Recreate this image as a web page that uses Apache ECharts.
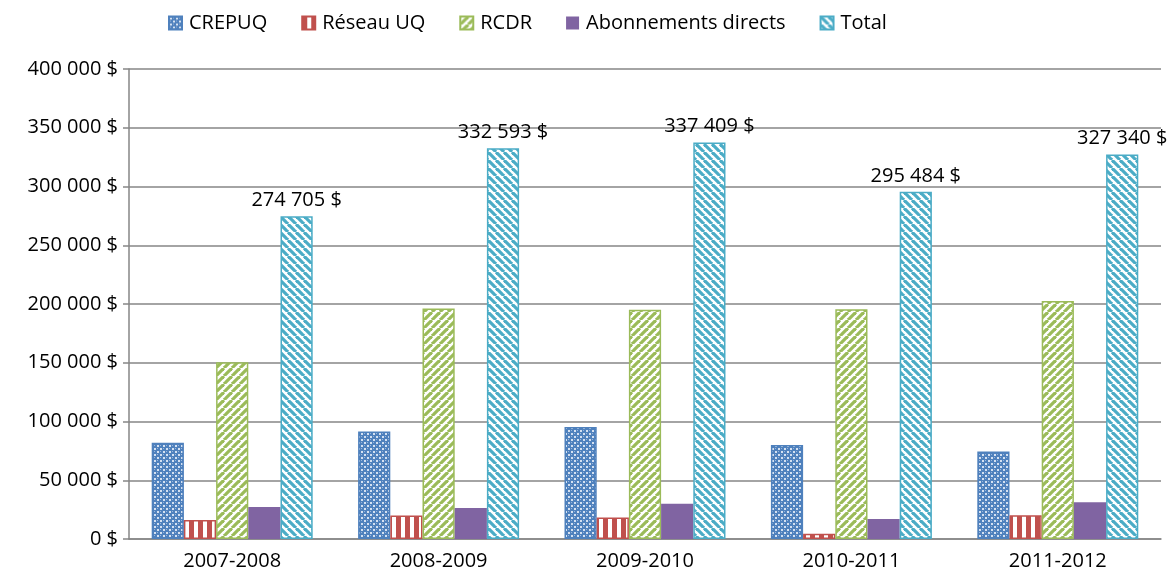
<!DOCTYPE html>
<html>
<head>
<meta charset="utf-8">
<script src="https://cdn.jsdelivr.net/npm/echarts@6/dist/echarts.min.js"></script>
<style>
  html, body { margin: 0; padding: 0; background: #fff; }
  #main { width: 1173px; height: 579px; }
</style>
</head>
<body>
<div id="main"></div>
<script>
var categories = ['2007-2008', '2008-2009', '2009-2010', '2010-2011', '2011-2012'];
var crepuq = [82000, 91500, 95300, 79900, 74500];
var reseauUQ = [16200, 19900, 18200, 4500, 20200];
var rcdr = [150500, 196200, 195100, 195600, 202500];
var abonnements = [27300, 26400, 30100, 17100, 31300];
var total = [274705, 332593, 337409, 295484, 327340];

// petites tuiles de motif, facon Excel
function tile(w, h, draw) {
    var c = document.createElement('canvas');
    c.width = w; c.height = h;
    draw(c.getContext('2d'), w, h);
    return c;
}
var patCrepuq = tile(6, 6, function (g) {
    g.fillStyle = '#4F81BD'; g.fillRect(0, 0, 6, 6);
    g.fillStyle = '#D5E1F1';
    g.fillRect(1, 1, 2, 2);
    g.fillRect(4, 4, 2, 2);
    g.fillStyle = '#9AB7DD';
    g.fillRect(4, 1, 1, 1);
    g.fillRect(1, 4, 1, 1);
});
var patReseau = tile(9, 4, function (g) {
    g.fillStyle = '#ffffff'; g.fillRect(0, 0, 9, 4);
    g.fillStyle = '#C0504D'; g.fillRect(0, 0, 5, 4);
});
function diag(color, up) {
    return tile(8, 8, function (g, w, h) {
        g.fillStyle = '#ffffff'; g.fillRect(0, 0, w, h);
        g.strokeStyle = color; g.lineWidth = 3.2;
        for (var k = -2; k <= 2; k++) {
            g.beginPath();
            if (up) { g.moveTo(k * 8, 8); g.lineTo(k * 8 + 8, 0); }
            else { g.moveTo(k * 8, 0); g.lineTo(k * 8 + 8, 8); }
            g.stroke();
        }
    });
}
var patRcdr = diag('#9BBB59', true);
var patTotal = diag('#4BACC6', false);

function fmt(v) {
    return String(v).replace(/\B(?=(\d{3})+(?!\d))/g, ' ') + ' $';
}

var font = '"Open Sans", Lato, sans-serif';

function serie(name, data, fill, border) {
    return {
        name: name,
        type: 'bar',
        data: data,
        barGap: '0%',
        barCategoryGap: '22%',
        itemStyle: {
            color: { image: fill, repeat: 'repeat' },
            borderColor: border,
            borderWidth: 1.5
        }
    };
}

var myChart = echarts.init(document.getElementById('main'));

var option = {
    animation: false,
    textStyle: { fontFamily: font },
    legend: {
        top: 8,
        left: 163,
        itemWidth: 13,
        itemHeight: 13,
        itemGap: 34,
        icon: 'rect',
        textStyle: { fontSize: 20, color: '#000', fontFamily: font, padding: [0, 0, 0, 2] }
    },
    grid: { left: 129, right: 12, top: 69, bottom: 40 },
    xAxis: {
        type: 'category',
        data: categories,
        axisLine: { lineStyle: { color: '#868686', width: 1.5 } },
        axisTick: { length: 6, lineStyle: { color: '#868686', width: 1.5 } },
        axisLabel: { fontSize: 20, color: '#000', margin: 12 }
    },
    yAxis: {
        type: 'value',
        min: 0,
        max: 400000,
        interval: 50000,
        axisLine: { show: true, lineStyle: { color: '#868686', width: 1.5 } },
        axisTick: { show: true, length: 6, lineStyle: { color: '#868686', width: 1.5 } },
        splitLine: { lineStyle: { color: '#868686', width: 1.5 } },
        axisLabel: { fontSize: 20, color: '#000', margin: 11, formatter: fmt }
    },
    series: [
        serie('CREPUQ', crepuq, patCrepuq, '#4F81BD'),
        serie('Réseau UQ', reseauUQ, patReseau, '#C0504D'),
        serie('RCDR', rcdr, patRcdr, '#9BBB59'),
        {
            name: 'Abonnements directs',
            type: 'bar',
            data: abonnements,
            barGap: '0%',
            barCategoryGap: '22%',
            itemStyle: { color: '#8064A2' }
        },
        (function () {
            var s = serie('Total', total, patTotal, '#4BACC6');
            s.label = {
                show: true,
                position: 'top',
                distance: 6,
                fontSize: 20,
                color: '#000',
                formatter: function (p) { return fmt(p.value); }
            };
            return s;
        })()
    ]
};

myChart.setOption(option);
</script>
</body>
</html>
